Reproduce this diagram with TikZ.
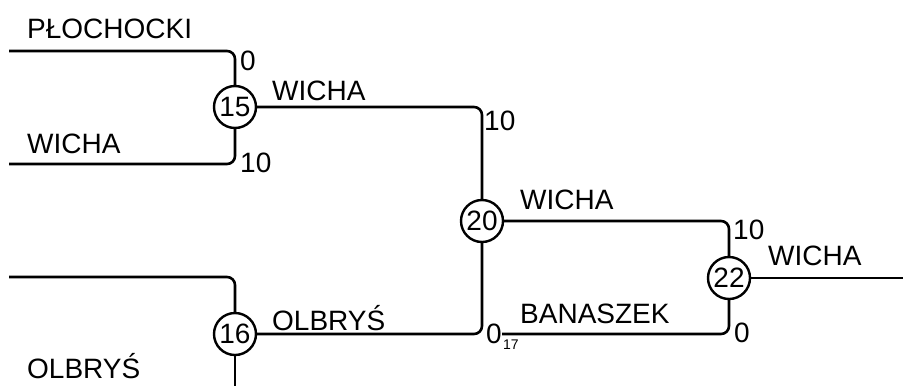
\documentclass[tikz,border=0pt]{standalone}
\usepackage{fontspec}
\setmainfont{Liberation Sans}
\begin{document}
\begin{tikzpicture}[x=1pt,y=-1pt,
  wire/.style={line width=2.6pt,rounded corners=8pt},
  match/.style={circle,draw,line width=2.4pt,minimum size=42pt,inner sep=0pt,font=\fontsize{28}{28}\selectfont,fill=white},
  lbl/.style={anchor=base west,inner sep=0pt,font=\fontsize{28}{28}\selectfont},
  sub/.style={anchor=base west,inner sep=0pt,font=\fontsize{14}{14}\selectfont}]
\useasboundingbox (0,0) rectangle (912,386);
% start/end coordinates
\coordinate (s1) at (9,51);
\coordinate (s2) at (9,164);
\coordinate (s3) at (9,277);
\coordinate (s4) at (502,334);
\coordinate (e16) at (235,386);
\coordinate (e22) at (903,278);
% match nodes
\node[match] (c15) at (235,107) {15};
\node[match] (c16) at (235,334) {16};
\node[match] (c20) at (482,221) {20};
\node[match] (c22) at (729,278) {22};
% wires
\draw[wire] (s1) -| (c15.north);
\draw[wire] (s2) -| (c15.south);
\draw[wire] (s3) -| (c16.north);
\draw[wire] (c16.south) -- (e16);
\draw[wire] (c15.east) -| (c20.north);
\draw[wire] (c16.east) -| (c20.south);
\draw[wire] (c20.east) -| (c22.north);
\draw[wire] (s4) -| (c22.south);
\draw[wire] (c22.east) -- (e22);
% labels
\node[lbl] (n1) at (27,38) {PŁOCHOCKI};
\node[lbl] (n2) at (27,153) {WICHA};
\node[lbl] (n3) at (27,378) {OLBRYŚ};
\node[lbl] (q1) at (240,70) {0};
\node[lbl] (q2) at (240,172) {10};
\node[lbl] (w1) at (272,100) {WICHA};
\node[lbl] (q3) at (484,130) {10};
\node[lbl] (w2) at (520,209) {WICHA};
\node[lbl] (o1) at (272,330) {OLBRYŚ};
\node[lbl] (q4) at (486,343) {0};
\node[sub] (r17) at (503,349) {17};
\node[lbl] (b1) at (520,323) {BANASZEK};
\node[lbl] (q5) at (733,239) {10};
\node[lbl] (q6) at (734,342) {0};
\node[lbl] (w3) at (768,265) {WICHA};
\end{tikzpicture}
\end{document}
